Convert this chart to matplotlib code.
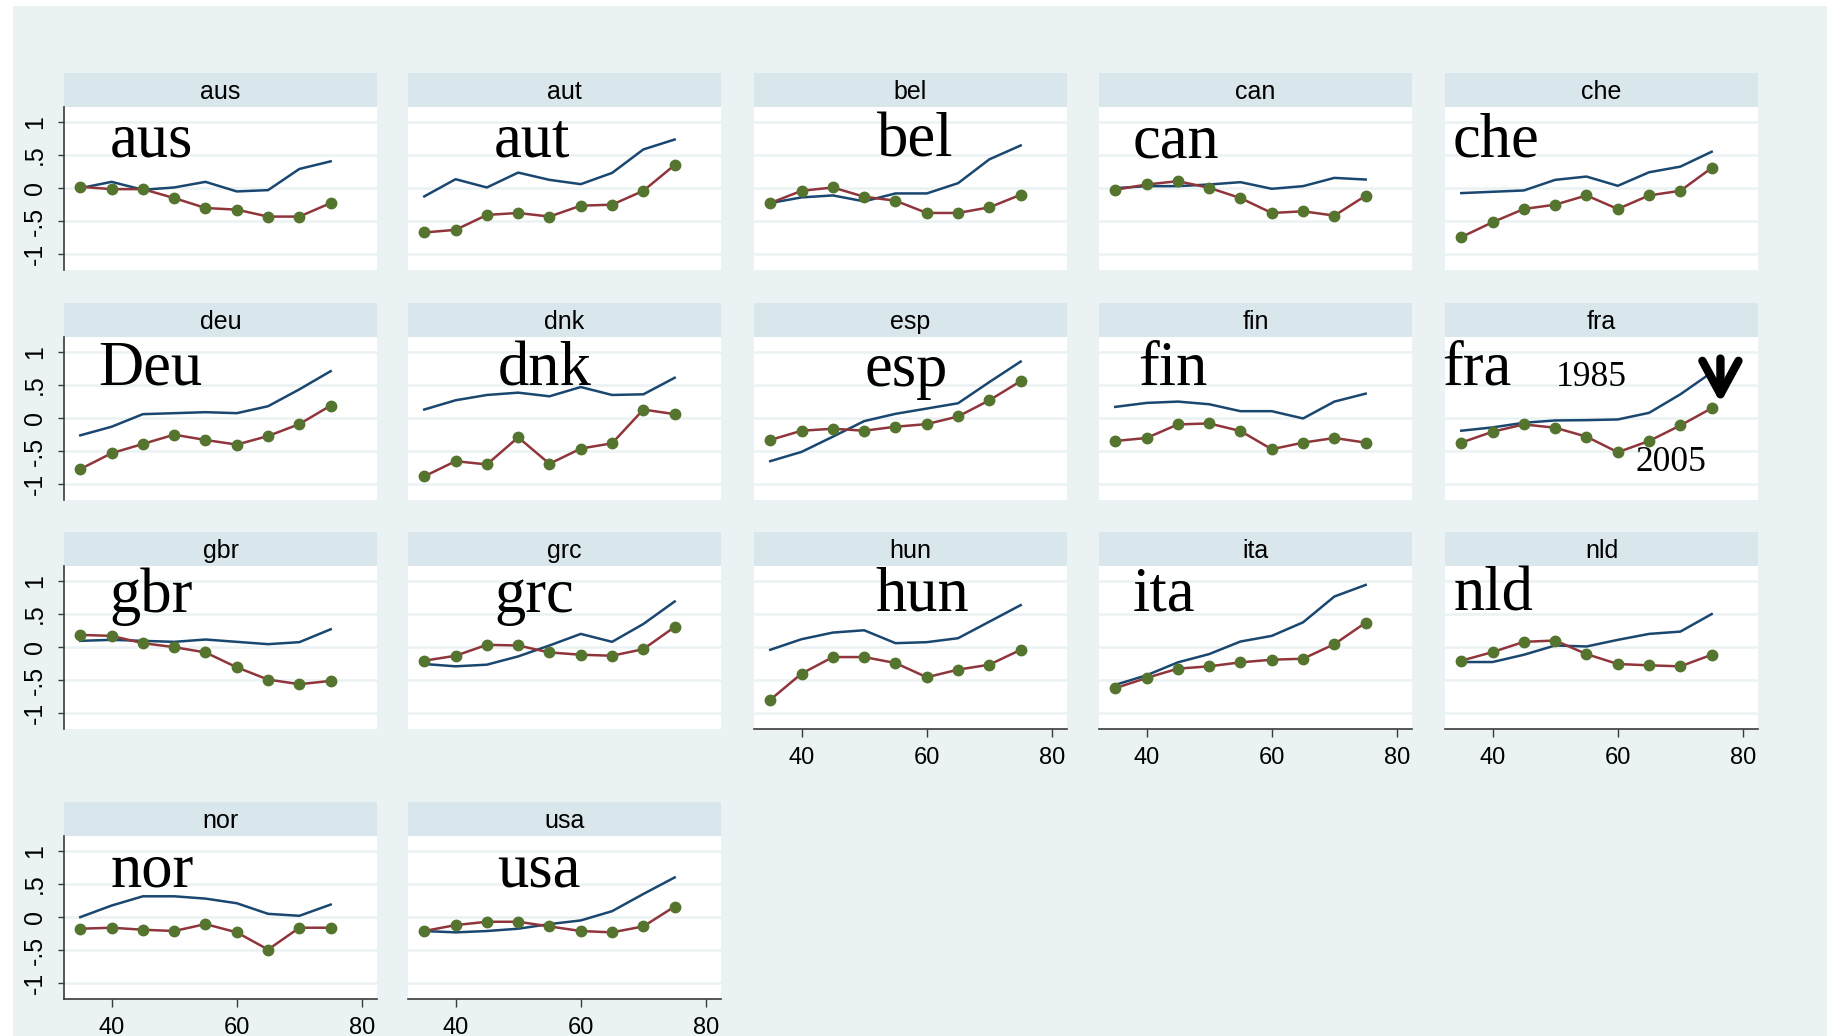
import matplotlib.pyplot as plt
from matplotlib.patches import Rectangle

# age groups on the x axis
ages = [35, 40, 45, 50, 55, 60, 65, 70, 75]

countries = ["aus", "aut", "bel", "can", "che",
             "deu", "dnk", "esp", "fin", "fra",
             "gbr", "grc", "hun", "ita", "nld",
             "nor", "usa"]

# profile drawn with markers (2005)
marked = {
    "aus": [0.02, -0.015, -0.015, -0.15, -0.30, -0.325, -0.43, -0.43, -0.225],
    "aut": [-0.67, -0.63, -0.405, -0.375, -0.43, -0.265, -0.25, -0.04, 0.35],
    "bel": [-0.225, -0.04, 0.01, -0.13, -0.19, -0.375, -0.375, -0.29, -0.10],
    "can": [-0.025, 0.055, 0.105, 0.005, -0.15, -0.375, -0.35, -0.415, -0.115],
    "che": [-0.74, -0.515, -0.315, -0.25, -0.11, -0.315, -0.11, -0.04, 0.305],
    "deu": [-0.77, -0.53, -0.39, -0.25, -0.33, -0.40, -0.27, -0.09, 0.19],
    "dnk": [-0.88, -0.65, -0.70, -0.29, -0.69, -0.46, -0.38, 0.13, 0.06],
    "esp": [-0.33, -0.19, -0.16, -0.19, -0.13, -0.09, 0.025, 0.27, 0.56],
    "fin": [-0.345, -0.30, -0.095, -0.08, -0.195, -0.47, -0.37, -0.30, -0.37],
    "fra": [-0.37, -0.205, -0.095, -0.145, -0.28, -0.515, -0.345, -0.11, 0.15],
    "gbr": [0.185, 0.17, 0.06, 0.0, -0.08, -0.305, -0.49, -0.56, -0.51],
    "grc": [-0.205, -0.13, 0.035, 0.025, -0.08, -0.115, -0.13, -0.03, 0.305],
    "hun": [-0.795, -0.40, -0.15, -0.15, -0.24, -0.455, -0.34, -0.265, -0.04],
    "ita": [-0.62, -0.465, -0.325, -0.29, -0.23, -0.19, -0.175, 0.045, 0.37],
    "nld": [-0.205, -0.075, 0.08, 0.10, -0.105, -0.255, -0.275, -0.29, -0.115],
    "nor": [-0.175, -0.16, -0.19, -0.21, -0.105, -0.23, -0.49, -0.16, -0.16],
    "usa": [-0.21, -0.12, -0.07, -0.07, -0.14, -0.21, -0.23, -0.14, 0.16],
}

# plain line profile (1985)
plain = {
    "aus": [0.0, 0.095, -0.025, 0.01, 0.095, -0.05, -0.03, 0.29, 0.405],
    "aut": [-0.125, 0.135, 0.01, 0.235, 0.125, 0.06, 0.23, 0.585, 0.735],
    "bel": [-0.225, -0.14, -0.11, -0.20, -0.08, -0.08, 0.075, 0.435, 0.645],
    "can": [0.0, 0.03, 0.03, 0.055, 0.09, -0.01, 0.03, 0.155, 0.13],
    "che": [-0.075, -0.055, -0.035, 0.125, 0.175, 0.035, 0.24, 0.325, 0.55],
    "deu": [-0.26, -0.13, 0.06, 0.075, 0.09, 0.075, 0.18, 0.435, 0.71],
    "dnk": [0.13, 0.27, 0.35, 0.385, 0.33, 0.47, 0.35, 0.36, 0.61],
    "esp": [-0.65, -0.51, -0.28, -0.045, 0.065, 0.145, 0.225, 0.545, 0.855],
    "fin": [0.17, 0.23, 0.25, 0.21, 0.105, 0.105, -0.005, 0.25, 0.37],
    "fra": [-0.19, -0.14, -0.07, -0.035, -0.03, -0.02, 0.08, 0.36, 0.69],
    "gbr": [0.095, 0.11, 0.095, 0.08, 0.115, 0.08, 0.045, 0.075, 0.27],
    "grc": [-0.255, -0.29, -0.265, -0.14, 0.025, 0.2, 0.08, 0.35, 0.69],
    "hun": [-0.04, 0.12, 0.22, 0.255, 0.06, 0.075, 0.135, 0.385, 0.635],
    "ita": [-0.57, -0.425, -0.23, -0.105, 0.085, 0.17, 0.375, 0.765, 0.94],
    "nld": [-0.225, -0.225, -0.115, 0.025, 0.01, 0.11, 0.2, 0.235, 0.5],
    "nor": [0.0, 0.175, 0.315, 0.315, 0.28, 0.21, 0.05, 0.02, 0.19],
    "usa": [-0.21, -0.23, -0.21, -0.175, -0.105, -0.05, 0.09, 0.35, 0.6],
}

ytick_vals = [-1, -0.5, 0, 0.5, 1]
ytick_text = ["-1", "-.5", "0", ".5", "1"]
xtick_vals = [40, 60, 80]

# big in-panel labels: text, x, baseline y
labels = {
    "aus": ("aus", 39.7, 0.48), "aut": ("aut", 46.1, 0.48),
    "bel": ("bel", 52.1, 0.48), "can": ("can", 37.8, 0.47),
    "che": ("che", 33.6, 0.48), "deu": ("Deu", 37.8, 0.51),
    "dnk": ("dnk", 46.7, 0.49), "esp": ("esp", 50.1, 0.49),
    "fin": ("fin", 38.6, 0.50), "fra": ("fra", 32.0, 0.51),
    "gbr": ("gbr", 39.7, 0.53), "grc": ("grc", 46.2, 0.53),
    "hun": ("hun", 51.8, 0.55), "ita": ("ita", 37.8, 0.55),
    "nld": ("nld", 33.8, 0.55), "nor": ("nor", 39.9, 0.46),
    "usa": ("usa", 46.6, 0.46),
}

BG = "#EAF2F3"
STRIP = "#D9E6EB"
NAVY = "#1A476F"
MAROON = "#90353B"
GREEN = "#55752F"

W, H = 1827, 1036
fig = plt.figure(figsize=(W / 100, H / 100), dpi=100, facecolor="white")
fig.patches.append(Rectangle((13 / W, 0), 1, 1 - 6 / H, transform=fig.transFigure,
                             facecolor=BG, edgecolor="none", zorder=-10))


def px_box(x0, y0, w, h):
    return [x0 / W, 1 - (y0 + h) / H, w / W, h / H]


col_left = [64, 408, 754, 1099, 1445]
row_top = [73, 303, 532, 802]
panel_w, strip_h, plot_h = 313, 34, 163
bottom_row = {"hun", "ita", "nld", "nor", "usa"}

for i, c in enumerate(countries):
    r, k = divmod(i, 5)
    x0, y0 = col_left[k], row_top[r]

    # strip with the panel title
    sax = fig.add_axes(px_box(x0, y0, panel_w, strip_h))
    sax.set_facecolor(STRIP)
    sax.set_xticks([])
    sax.set_yticks([])
    for s in sax.spines.values():
        s.set_visible(False)
    sax.text(0.5, 0.45, c, ha="center", va="center", fontsize=18,
             family="Liberation Sans", transform=sax.transAxes)

    ax = fig.add_axes(px_box(x0, y0 + strip_h, panel_w, plot_h))
    ax.set_facecolor("white")
    ax.set_xlim(32.4, 82.4)
    ax.set_ylim(-1.237, 1.226)
    for yv in ytick_vals:
        ax.axhline(yv, color=BG, lw=1.8, zorder=0)

    ax.plot(ages, plain[c], color=NAVY, lw=1.8, zorder=2)
    ax.plot(ages, marked[c], color=MAROON, lw=1.8, marker="o", ms=7.5,
            mfc=GREEN, mec=GREEN, zorder=3)

    txt, tx, ty = labels[c]
    ax.text(tx, ty, txt, family="Liberation Serif", fontsize=45,
            ha="left", va="baseline", zorder=4)

    for s in ax.spines.values():
        s.set_visible(False)
    if k == 0:
        ax.spines["left"].set_visible(True)
        ax.spines["left"].set_color("#3a3a3a")
        ax.spines["left"].set_linewidth(1.2)
        ax.set_yticks(ytick_vals)
        ax.set_yticklabels(ytick_text, rotation=90, va="center",
                           family="Liberation Sans", fontsize=18)
        ax.tick_params(axis="y", length=4.5, width=1.0, pad=8, color="#3a3a3a")
    else:
        ax.set_yticks([])
    if c in bottom_row:
        ax.spines["bottom"].set_visible(True)
        ax.spines["bottom"].set_color("#3a3a3a")
        ax.spines["bottom"].set_linewidth(1.2)
        ax.set_xticks(xtick_vals)
        ax.set_xticklabels([str(v) for v in xtick_vals],
                           family="Liberation Sans", fontsize=17)
        ax.tick_params(axis="x", length=6, width=1.0, pad=7, color="#3a3a3a")
    else:
        ax.set_xticks([])

    if c == "fra":
        ax.text(50.1, 0.49, "1985", family="Liberation Serif", fontsize=25.5,
                ha="left", va="baseline", zorder=4)
        ax.text(62.9, -0.795, "2005", family="Liberation Serif", fontsize=25.5,
                ha="left", va="baseline", zorder=4)
        ax.annotate("", xy=(76.4, 0.23), xytext=(76.4, 0.9),
                    arrowprops=dict(arrowstyle="->,head_length=1.2,head_width=0.65",
                                    color="black", lw=6, mutation_scale=20,
                                    shrinkA=0, shrinkB=0), zorder=5)

fig.savefig("out.png", dpi=100, facecolor="white")
